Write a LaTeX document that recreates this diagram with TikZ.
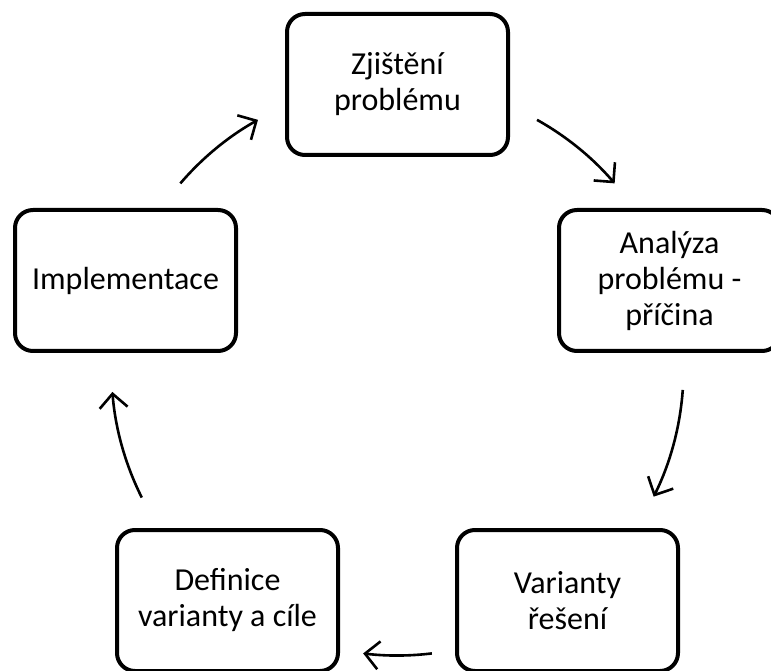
\documentclass[tikz,border=0pt]{standalone}
\usepackage{fontspec}
\setmainfont{Carlito}
\usetikzlibrary{arrows.meta}
\begin{document}
\begin{tikzpicture}[x=1pt,y=1pt,
  stagebox/.style={draw=black, fill=white, line width=4pt, rounded corners=18pt,
    minimum width=221pt, minimum height=141pt, align=center, inner sep=0pt,
    font=\fontsize{32}{36}\selectfont},
  cyclearrow/.style={draw=black, line width=2.6pt,
    -{Straight Barb[length=14pt,width=28pt,line width=2.6pt]}}]
\clip (0,0) rectangle (771,670);
\useasboundingbox (0,0) rectangle (771,670);
\fill[white] (0,0) rectangle (771,670);
\coordinate (O) at (397.5,300.5);
\node[stagebox] (top) at (397.5,585.5) {Zjištění\\problému};
\node[stagebox] (right) at (669.5,389.5) {Analýza\\problému -\\příčina};
\node[stagebox] (bright) at (567.5,69.5) {Varianty\\řešení};
\node[stagebox] (bleft) at (227.5,69.5) {Definice\\varianty a cíle};
\node[stagebox] (left) at (125.5,389.5) {Implementace};
\def\R{286}
\draw[cyclearrow] ([shift={(139.4:\R)}]O) arc[start angle=139.4, end angle=119.2, radius=\R];
\draw[cyclearrow] ([shift={(60.8:\R)}]O) arc[start angle=60.8, end angle=40.6, radius=\R];
\draw[cyclearrow] ([shift={(-4.1:\R)}]O) arc[start angle=-4.1, end angle=-26.4, radius=\R];
\draw[cyclearrow] ([shift={(-83.1:\R)}]O) arc[start angle=-83.1, end angle=-96.9, radius=\R];
\draw[cyclearrow] ([shift={(206.6:\R)}]O) arc[start angle=206.6, end angle=184.5, radius=\R];
\end{tikzpicture}
\end{document}
